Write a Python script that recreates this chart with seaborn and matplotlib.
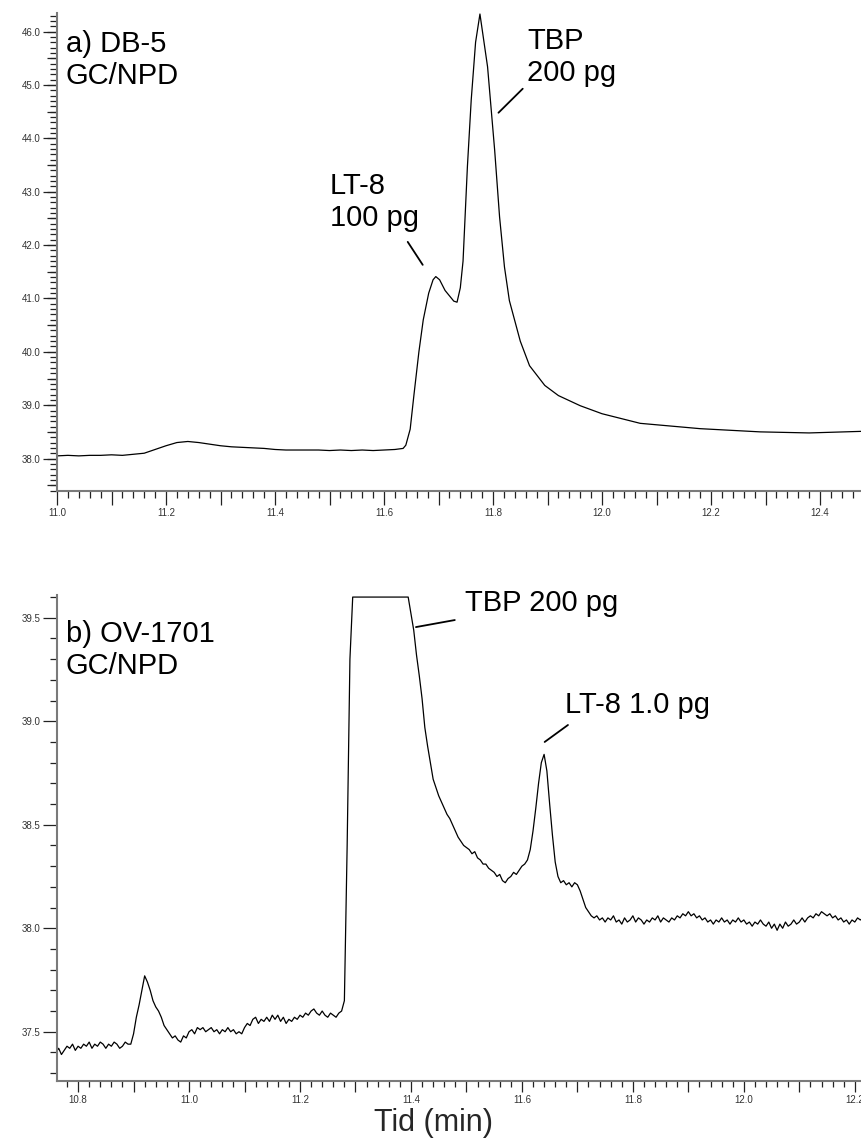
import numpy as np
import matplotlib
matplotlib.use("Agg")
import matplotlib.pyplot as plt
from matplotlib.ticker import MultipleLocator, FuncFormatter, NullFormatter
import seaborn as sns

# ---------------- data ----------------
# Panel a (DB-5) retention time (min) and detector signal
t_a = [11.00, 11.02, 11.04, 11.06, 11.08, 11.10, 11.12, 11.14, 11.16, 11.18,
       11.20, 11.22, 11.24, 11.26, 11.28, 11.30, 11.32, 11.34, 11.36, 11.38,
       11.40, 11.42, 11.44, 11.46, 11.48, 11.50, 11.52, 11.54, 11.56, 11.58,
       11.60, 11.62, 11.635, 11.640, 11.648, 11.655, 11.664, 11.672, 11.682, 11.690,
       11.695, 11.702, 11.712, 11.720, 11.728, 11.734, 11.740, 11.745, 11.753, 11.760,
       11.768, 11.776, 11.790, 11.803, 11.812, 11.821, 11.830, 11.850, 11.867, 11.895,
       11.920, 11.960, 12.000, 12.070, 12.180, 12.290, 12.380, 12.477]
v_a = [38.05, 38.06, 38.05, 38.06, 38.06, 38.07, 38.06, 38.08, 38.10, 38.17,
       38.24, 38.30, 38.32, 38.30, 38.27, 38.24, 38.22, 38.21, 38.20, 38.19,
       38.17, 38.16, 38.16, 38.16, 38.16, 38.15, 38.16, 38.15, 38.16, 38.15,
       38.16, 38.17, 38.19, 38.25, 38.55, 39.20, 40.00, 40.60, 41.10, 41.35,
       41.41, 41.35, 41.15, 41.05, 40.95, 40.93, 41.20, 41.70, 43.47, 44.72,
       45.80, 46.33, 45.34, 43.78, 42.53, 41.59, 40.96, 40.20, 39.74, 39.37,
       39.18, 38.99, 38.84, 38.66, 38.56, 38.50, 38.48, 38.51]

# Panel b (OV-1701): detector sampled every 0.005 min starting at 10.760 min
t_b_start = 10.760
t_b_step = 0.005
v_b = [
    # 10.760 - 10.890
    37.40, 37.42, 37.39, 37.41, 37.43, 37.42, 37.44, 37.41, 37.43, 37.42,
    37.44, 37.43, 37.45, 37.42, 37.44, 37.43, 37.45, 37.44, 37.42, 37.44,
    37.43, 37.45, 37.44, 37.42, 37.43, 37.45, 37.44,
    # 10.895 - 11.280
    37.44, 37.49, 37.57, 37.63, 37.70, 37.77, 37.74, 37.70, 37.65, 37.62,
    37.60, 37.57, 37.53, 37.51, 37.49, 37.47, 37.48, 37.46, 37.45, 37.48,
    37.47, 37.50, 37.51, 37.49, 37.52, 37.51, 37.52, 37.50, 37.51, 37.52,
    37.50, 37.51, 37.49, 37.51, 37.50, 37.52, 37.50, 37.51, 37.49, 37.50,
    37.49, 37.52, 37.54, 37.53, 37.56, 37.57, 37.54, 37.56, 37.55, 37.57,
    37.55, 37.58, 37.56, 37.58, 37.55, 37.57, 37.54, 37.56, 37.55, 37.57,
    37.56, 37.58, 37.57, 37.59, 37.58, 37.60, 37.61, 37.59, 37.58, 37.60,
    37.58, 37.57, 37.59, 37.58, 37.57, 37.59, 37.60, 37.65,
    # 11.285 - 11.395 (TBP, detector saturated)
    38.40, 39.30, 39.60, 39.60, 39.60, 39.60, 39.60, 39.60, 39.60, 39.60,
    39.60, 39.60, 39.60, 39.60, 39.60, 39.60, 39.60, 39.60, 39.60, 39.60,
    39.60, 39.60, 39.60,
    # 11.400 - 11.750
    39.52, 39.44, 39.32, 39.22, 39.11, 38.97, 38.88, 38.80, 38.72, 38.68,
    38.64, 38.61, 38.58, 38.55, 38.53, 38.50, 38.47, 38.44, 38.42, 38.40,
    38.39, 38.38, 38.36, 38.37, 38.34, 38.33, 38.31, 38.31, 38.29, 38.28,
    38.27, 38.25, 38.26, 38.23, 38.22, 38.24, 38.25, 38.27, 38.26, 38.28,
    38.30, 38.31, 38.33, 38.38, 38.47, 38.58, 38.70, 38.80, 38.84, 38.76,
    38.60, 38.45, 38.32, 38.25, 38.22, 38.23, 38.21, 38.22, 38.20, 38.22,
    38.21, 38.18, 38.14, 38.10, 38.08, 38.06, 38.05, 38.06, 38.04, 38.05,
    38.03,
    # 11.755 - 12.215
    38.05, 38.04, 38.06, 38.03, 38.04, 38.02, 38.05, 38.03, 38.04, 38.06,
    38.03, 38.05, 38.04, 38.02, 38.04, 38.03, 38.05, 38.04, 38.06, 38.03,
    38.05, 38.04, 38.03, 38.05, 38.04, 38.06, 38.05, 38.07, 38.06, 38.08,
    38.06, 38.07, 38.05, 38.06, 38.04, 38.05, 38.03, 38.04, 38.02, 38.04,
    38.03, 38.05, 38.03, 38.04, 38.02, 38.04, 38.03, 38.05, 38.03, 38.04,
    38.02, 38.03, 38.01, 38.03, 38.02, 38.04, 38.02, 38.01, 38.03, 38.00,
    38.02, 37.99, 38.02, 38.00, 38.03, 38.01, 38.02, 38.04, 38.02, 38.03,
    38.05, 38.03, 38.05, 38.06, 38.05, 38.07, 38.06, 38.08, 38.07, 38.06,
    38.07, 38.05, 38.06, 38.04, 38.05, 38.03, 38.04, 38.02, 38.04, 38.03,
    38.05, 38.04, 38.05,
]
t_b = t_b_start + t_b_step * np.arange(len(v_b))

panel_labels = ["a) DB-5\nGC/NPD", "b) OV-1701\nGC/NPD"]
peak_labels_a = ["LT-8\n100 pg", "TBP\n200 pg"]
peak_labels_b = ["TBP 200 pg", "LT-8 1.0 pg"]
x_label = "Tid (min)"

# ---------------- figure ----------------
sns.set_style("ticks")
plt.rcParams["font.family"] = ["Liberation Sans", "DejaVu Sans"]

W, H = 862, 1144
fig = plt.figure(figsize=(W / 100, H / 100), dpi=100)


def fx(px):
    return px / W


def fy(py):
    return 1 - py / H


ax_a = fig.add_axes([fx(57), fy(491), fx(862 - 57), (491 - 13) / H])
ax_b = fig.add_axes([fx(57), fy(1081), fx(862 - 57), (1081 - 595) / H])

line_kw = dict(color="black", linewidth=0.9, estimator=None, sort=False)
sns.lineplot(x=t_a, y=v_a, ax=ax_a, **line_kw)
sns.lineplot(x=t_b, y=v_b, ax=ax_b, **line_kw)

ax_a.set_xlim(11.0, 12.477)
ax_a.set_ylim(37.392, 46.349)
ax_b.set_xlim(10.762, 12.213)
ax_b.set_ylim(37.262, 39.61)


def fmt_every(step):
    def f(v, p):
        k = round(v / step, 6)
        return f"{v:.1f}" if abs(k - round(k)) < 1e-4 else ""
    return FuncFormatter(f)


def style_axis(ax, xmaj, xmin, ymaj, ymin, xlab_step, ylab_step):
    for s in ("top", "right"):
        ax.spines[s].set_visible(False)
    for s in ("left", "bottom"):
        ax.spines[s].set_color("#7a7a7a")
        ax.spines[s].set_linewidth(1.5)
    ax.xaxis.set_major_locator(MultipleLocator(xmaj))
    ax.xaxis.set_minor_locator(MultipleLocator(xmin))
    ax.yaxis.set_major_locator(MultipleLocator(ymaj))
    ax.yaxis.set_minor_locator(MultipleLocator(ymin))
    ax.xaxis.set_major_formatter(fmt_every(xlab_step))
    ax.yaxis.set_major_formatter(fmt_every(ylab_step))
    ax.tick_params(which="major", length=10, width=0.9, color="#222222",
                   labelsize=7, labelcolor="#333333", direction="out", pad=2)
    ax.tick_params(which="minor", length=5, width=0.9, color="#222222",
                   direction="out")
    ax.set_xlabel("")
    ax.set_ylabel("")
    ax.patch.set_alpha(0)


style_axis(ax_a, 0.1, 0.02, 1.0, 0.1, 0.2, 1.0)
style_axis(ax_b, 0.1, 0.02, 0.5, 0.1, 0.2, 0.5)
ax_b.tick_params(axis="x", which="major", length=8)
ax_b.tick_params(axis="x", which="minor", length=4)

# half-unit medium ticks on panel a's y axis
sec = ax_a.secondary_yaxis("left")
sec.yaxis.set_major_locator(MultipleLocator(0.5))
sec.yaxis.set_major_formatter(NullFormatter())
sec.tick_params(length=7, width=0.9, color="#222222")
sec.spines["left"].set_visible(False)

fs = 21
txt_kw = dict(fontsize=fs, color="black", linespacing=1.15)
fig.text(fx(66), fy(60), panel_labels[0], ha="left", va="center", **txt_kw)
fig.text(fx(330), fy(202), peak_labels_a[0], ha="left", va="center", **txt_kw)
fig.text(fx(527), fy(57), peak_labels_a[1], ha="left", va="center", **txt_kw)
fig.text(fx(66), fy(650), panel_labels[1], ha="left", va="center", **txt_kw)
fig.text(fx(465), fy(603), peak_labels_b[0], ha="left", va="center", **txt_kw)
fig.text(fx(565), fy(705), peak_labels_b[1], ha="left", va="center", **txt_kw)

lead = dict(arrowstyle="-", color="black", lw=1.3, shrinkA=0, shrinkB=0)
ax_a.annotate("", xy=(11.671, 41.63), xytext=(11.6435, 42.06), arrowprops=lead)
ax_a.annotate("", xy=(11.810, 44.48), xytext=(11.8545, 44.93), arrowprops=lead)
ax_b.annotate("", xy=(11.409, 39.455), xytext=(11.479, 39.489), arrowprops=lead)
ax_b.annotate("", xy=(11.641, 38.90), xytext=(11.683, 38.982), arrowprops=lead)

fig.text(fx(434), fy(1123), x_label, ha="center", va="center", fontsize=22)

fig.savefig("out.png", dpi=100, facecolor="white")
